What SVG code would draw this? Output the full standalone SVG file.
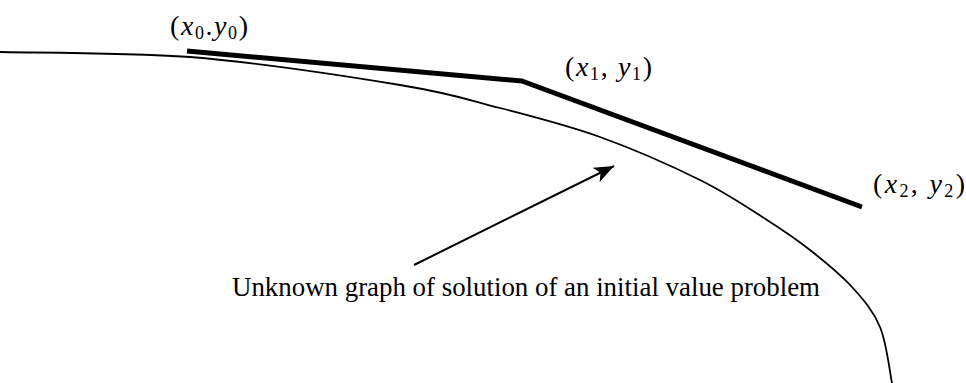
<svg xmlns="http://www.w3.org/2000/svg" width="966" height="383" viewBox="0 0 966 383">
<style>
text{font-family:"Liberation Serif","Times New Roman",serif;fill:#000}
.lbl{font-size:28px}
.v{font-style:italic}
.sub{font-size:18px}
.cap{font-size:27px}
.thin{fill:none;stroke:#000;stroke-width:1.8;stroke-linecap:round}
.thick{fill:none;stroke:#000;stroke-width:5;stroke-linejoin:round;stroke-linecap:butt}
</style>
<defs>
<marker id="ah" viewBox="0 0 20 16" refX="20" refY="8" markerWidth="20" markerHeight="16" markerUnits="userSpaceOnUse" orient="auto">
<path d="M0,0 L20,8 L0,16 L5,8 Z" fill="#000"/>
</marker>
</defs>
<g id="curve">
<path class="thin" d="M0,52 C31.7,52.8 123.3,52.5 190,57 C256.7,62.5 348.3,76.5 400,85 C451.7,93.5 466.7,99.3 500,108 C533.3,116.7 566.7,125 600,137 C633.3,149 672.2,166.2 700,180 C727.8,193.8 748.7,208.3 767,220 C785.3,231.7 795.8,238.8 810,250 C824.2,261.2 840.3,274.2 852,287 C863.7,299.8 873.3,311 880,327 C886.7,343 890,373.7 892,383"/>
</g>
<g id="euler-polygon">
<polyline class="thick" points="187,51 522,81 862,207"/>
</g>
<g id="label-p0">
<text class="lbl" x="170" y="35" textLength="78" lengthAdjust="spacing">(<tspan class="v">x</tspan><tspan class="sub" dy="4">0</tspan><tspan dy="-4">.</tspan><tspan class="v">y</tspan><tspan class="sub" dy="4">0</tspan><tspan dy="-4">)</tspan></text>
</g>
<g id="label-p1">
<text class="lbl" x="565" y="76" textLength="87" lengthAdjust="spacing">(<tspan class="v">x</tspan><tspan class="sub" dy="4">1</tspan><tspan dy="-4">, </tspan><tspan class="v">y</tspan><tspan class="sub" dy="4">1</tspan><tspan dy="-4">)</tspan></text>
</g>
<g id="label-p2">
<text class="lbl" x="873" y="193" textLength="92" lengthAdjust="spacing">(<tspan class="v">x</tspan><tspan class="sub" dy="4">2</tspan><tspan dy="-4">, </tspan><tspan class="v">y</tspan><tspan class="sub" dy="4">2</tspan><tspan dy="-4">)</tspan></text>
</g>
<g id="connectors">
<line x1="414" y1="265" x2="614" y2="166" stroke="#000" stroke-width="2" marker-end="url(#ah)"/>
</g>
<g id="caption">
<text class="cap" x="232" y="296" textLength="588" lengthAdjust="spacingAndGlyphs">Unknown graph of solution of an initial value problem</text>
</g>
</svg>
